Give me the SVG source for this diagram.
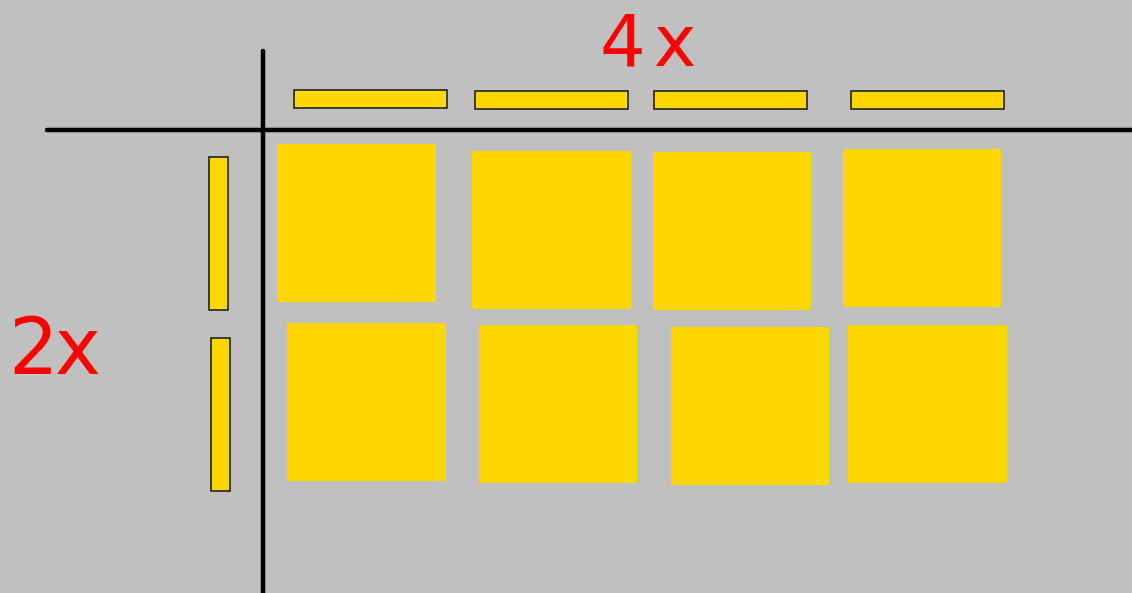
<svg xmlns="http://www.w3.org/2000/svg" width="1132" height="593" viewBox="0 0 1132 593">
<style>
.axis{stroke:#000;stroke-width:4.5;stroke-linecap:round;fill:none}
.bar{fill:#FFD700;stroke:#111;stroke-width:1.5}
.sq{fill:#FFD700}
.lbl{fill:#FF0000;font-family:"DejaVu Sans","Liberation Sans",sans-serif}
</style>
<rect width="1132" height="593" fill="#C0C0C0"/>
<g id="axes">
<line class="axis" x1="263" y1="51" x2="263" y2="593"/>
<line class="axis" x1="47" y1="130" x2="1132" y2="130"/>
</g>
<g id="top-bars">
<rect class="bar" x="294" y="90" width="153" height="18"/>
<rect class="bar" x="475" y="91" width="153" height="18"/>
<rect class="bar" x="654" y="91" width="153" height="18"/>
<rect class="bar" x="851" y="91" width="153" height="18"/>
</g>
<g id="left-bars">
<rect class="bar" x="209" y="157" width="19" height="153"/>
<rect class="bar" x="211" y="338" width="19" height="153"/>
</g>
<g id="squares">
<rect class="sq" x="277" y="144" width="159" height="158"/>
<rect class="sq" x="472" y="151" width="159" height="158"/>
<rect class="sq" x="653" y="152" width="158" height="158"/>
<rect class="sq" x="843" y="149" width="158" height="158"/>
<rect class="sq" x="287" y="323" width="159" height="158"/>
<rect class="sq" x="479" y="325" width="158" height="158"/>
<rect class="sq" x="671" y="327" width="158" height="158"/>
<rect class="sq" x="848" y="325" width="159" height="158"/>
</g>
<g id="labels">
<text class="lbl" x="600" y="66" font-size="72" letter-spacing="8">4x</text>
<text class="lbl" x="9" y="374" font-size="78" letter-spacing="-4">2x</text>
</g>
</svg>
